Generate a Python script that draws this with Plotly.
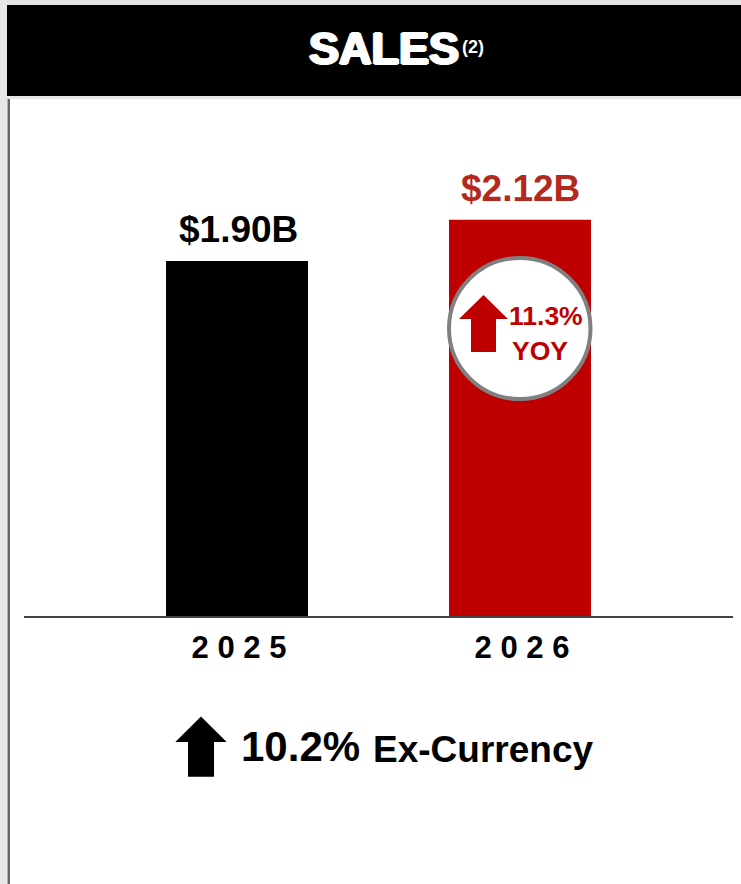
import plotly.graph_objects as go

# Chart data
years = [2025, 2026]
year_labels = ["2 0 2 5", "2 0 2 6"]
sales_billions = [1.90, 2.12]
value_labels = [f"${v:.2f}B" for v in sales_billions]
yoy_growth = "11.3%"
ex_currency_growth = "10.2%"

# Page and plot geometry, in pixels
W, H = 741, 884
PLOT_L, PLOT_R, PLOT_T, PLOT_B = 24, 733, 100, 616
FONT = "Liberation Sans"
RED = "#BE0000"
VALUE_COLORS = ["#000000", "#B22A1E"]
BAR_COLORS = ["#000000", RED]


def px(x):
    return (x - PLOT_L) / (PLOT_R - PLOT_L)


def py(y):
    return (PLOT_B - y) / (PLOT_B - PLOT_T)


def rect(x0, y0, x1, y1, color, layer="above"):
    return dict(type="rect", xref="paper", yref="paper", x0=px(x0), x1=px(x1), y0=py(y0), y1=py(y1),
                fillcolor=color, line_width=0, layer=layer)


def up_arrow(cx, half_wing, half_stem, tip, shoulder, bottom, color):
    pts = [(cx, tip), (cx + half_wing, shoulder), (cx + half_stem, shoulder), (cx + half_stem, bottom),
           (cx - half_stem, bottom), (cx - half_stem, shoulder), (cx - half_wing, shoulder)]
    path = "M " + " L ".join(f"{px(x):.5f} {py(y):.5f}" for x, y in pts) + " Z"
    return dict(type="path", xref="paper", yref="paper", path=path, fillcolor=color, line_width=0, layer="above")


def label(text, x, y, size, color, xanchor="left", **extra):
    return dict(text=text, xref="paper", yref="paper", x=px(x), y=py(y), xanchor=xanchor, yanchor="middle",
                showarrow=False, font=dict(family=FONT, size=size, color=color, weight="bold", **extra))


fig = go.Figure(go.Bar(
    x=[0, 1],
    y=sales_billions,
    width=0.5018,
    marker=dict(color=BAR_COLORS, line_width=0),
    hoverinfo="skip",
))

shapes = [
    # Slide frame and header band
    rect(0, 0, W, 5, "#E4E4E4"),
    rect(0, 0, 7, H, "#E8E8E8"),
    rect(7.5, 5, 10, H, "#666666"),
    rect(7, 96, W, 99, "#E6E6E6"),
    rect(7, 5, W, 96, "#000000"),
    # Year-over-year badge on the second bar
    dict(type="circle", xref="paper", yref="paper", x0=px(449), x1=px(590.5), y0=py(258), y1=py(399),
         fillcolor="#FFFFFF", line=dict(color="#808080", width=4), layer="above"),
    up_arrow(483.5, 24.5, 12.5, 295, 319, 352, RED),
    up_arrow(201, 25.7, 13, 716.5, 742, 776.7, "#000000"),
]

annotations = [
    label("SALES", 383.5, 48, 45, "#FFFFFF", xanchor="center",
          shadow="1.5px 0 0 #fff, -1.5px 0 0 #fff, 0 1px 0 #fff, 0 -1px 0 #fff"),
    label("(2)", 473, 47, 18, "#FFFFFF", xanchor="center"),
    label(yoy_growth, 545.5, 315.5, 26.5, RED, xanchor="center"),
    label("YOY", 540, 351, 26.5, RED, xanchor="center"),
    label(ex_currency_growth, 239, 746, 42, "#000000"),
    label("Ex-Currency", 371, 749, 37, "#000000"),
]
for i, (text, value, color) in enumerate(zip(value_labels, sales_billions, VALUE_COLORS)):
    annotations.append(dict(text=text, x=i, y=value, xref="x", yref="y", xanchor="center", yanchor="bottom",
                            xshift=1, yshift=9, showarrow=False,
                            font=dict(family=FONT, size=37, color=color, weight="bold")))

fig.update_layout(
    width=W,
    height=H,
    margin=dict(l=PLOT_L, r=W - PLOT_R, t=PLOT_T, b=H - PLOT_B, pad=0),
    paper_bgcolor="#FFFFFF",
    plot_bgcolor="#FFFFFF",
    showlegend=False,
    shapes=shapes,
    annotations=annotations,
    xaxis=dict(
        range=[-0.7527, 1.7527],
        tickvals=[0, 1],
        ticktext=year_labels,
        tickfont=dict(family=FONT, size=31, color="#000000", weight="bold"),
        ticklabelshift=2,
        ticks="outside",
        ticklen=3,
        tickcolor="rgba(0,0,0,0)",
        showline=True,
        linecolor="#444444",
        linewidth=1.5,
        showgrid=False,
        zeroline=False,
    ),
    yaxis=dict(range=[0, 2.761], visible=False, showgrid=False, zeroline=False),
)

fig.write_html("out.html", config=dict(displayModeBar=False))
